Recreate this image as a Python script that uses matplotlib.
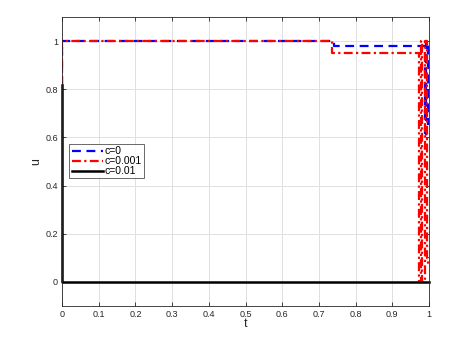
import matplotlib
matplotlib.use("Agg")
import matplotlib.pyplot as plt

plt.rcParams['font.family'] = ['Liberation Sans', 'DejaVu Sans']

# c=0 (blue dashed)
t_c0 = [0, 0, 0.74, 0.74, 0.988, 0.988, 0.992, 0.992, 0.996, 0.996]
u_c0 = [0.82, 1, 1, 0.98, 0.98, 0.6, 0.6, 1, 1, 0.65]
# c=0.001 (red dash-dot)
t_c1 = [0, 0, 0.735, 0.735, 0.973, 0.973, 0.979, 0.979, 0.982, 0.982,
        0.99, 0.99, 0.994, 0.994, 0.998, 0.998]
u_c1 = [0.82, 1, 1, 0.95, 0.95, 0, 0, 1, 1, 0,
        0, 1, 1, 0.1, 0.1, 0.07]
# c=0.01 (black solid)
t_c2 = [0, 0, 1]
u_c2 = [0.82, 0, 0]

xticks = [0, 0.1, 0.2, 0.3, 0.4, 0.5, 0.6, 0.7, 0.8, 0.9, 1]
xticklabels = ['0', '0.1', '0.2', '0.3', '0.4', '0.5', '0.6', '0.7', '0.8', '0.9', '1']
yticks = [0, 0.2, 0.4, 0.6, 0.8, 1]
yticklabels = ['0', '0.2', '0.4', '0.6', '0.8', '1']

fig = plt.figure(figsize=(4.74, 3.46), dpi=100)
ax = fig.add_axes([0.131, 0.1156, 0.774, 0.835])

ax.plot(t_c0, u_c0, color='#0000ff', linestyle=(0, (4, 2.5)), linewidth=1.6, label='c=0')
ax.plot(t_c1, u_c1, color='#ff0000', linestyle=(0, (4, 1.5, 1, 1.5)), linewidth=1.6, label='c=0.001')
ax.plot(t_c2, u_c2, color='black', linestyle='-', linewidth=1.8, label='c=0.01', clip_on=False)

ax.set_xlim(0, 1)
ax.set_ylim(-0.1, 1.1)
ax.set_xticks(xticks)
ax.set_xticklabels(xticklabels)
ax.set_yticks(yticks)
ax.set_yticklabels(yticklabels)
ax.grid(True, color='#e0e0e0', linewidth=0.7)
ax.set_axisbelow(True)
ax.tick_params(direction='in', length=3, width=0.6, labelsize=6.5, colors='#262626',
               top=True, right=True, pad=3)
for s in ax.spines.values():
    s.set_color('#262626')
    s.set_linewidth(0.6)
ax.set_xlabel('t', fontsize=9, color='#262626', labelpad=-1)
ax.set_ylabel('u', fontsize=9, color='#262626', labelpad=2)

leg = ax.legend(loc='upper left', bbox_to_anchor=(0.02, 0.56), fontsize=7.5,
                frameon=True, fancybox=False, handlelength=3.0, handletextpad=0.2,
                borderpad=0.2, labelspacing=0.0, borderaxespad=0)
leg.get_frame().set_edgecolor('#262626')
leg.get_frame().set_linewidth(0.6)

fig.savefig('out.png', dpi=100)
